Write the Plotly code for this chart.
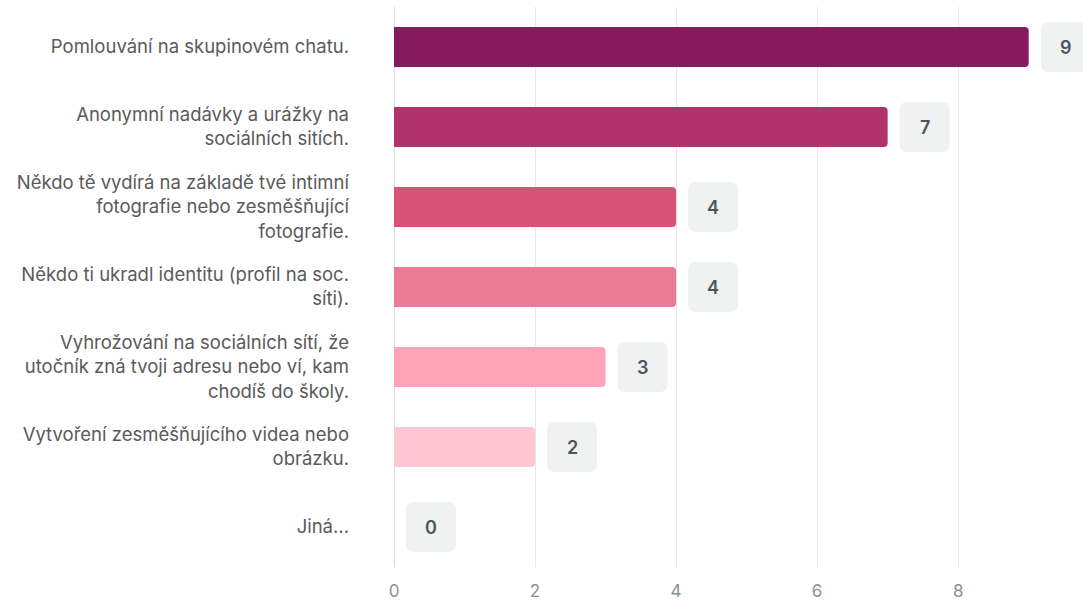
import plotly.graph_objects as go

categories = [
    "Pomlouvání na skupinovém chatu.",
    "Anonymní nadávky a urážky na<br>sociálních sitích.",
    "Někdo tě vydírá na základě tvé intimní<br>fotografie nebo zesměšňující<br>fotografie.",
    "Někdo ti ukradl identitu (profil na soc.<br>síti).",
    "Vyhrožování na sociálních sítí, že<br>utočník zná tvoji adresu nebo ví, kam<br>chodíš do školy.",
    "Vytvoření zesměšňujícího videa nebo<br>obrázku.",
    "Jiná...",
]
values = [9, 7, 4, 4, 3, 2, 0]
colors = ["#861a5e", "#b0346b", "#d95379", "#eb7a97", "#ffa3b9", "#ffc6d3", "#ffd9e2"]
x_ticks = [0, 2, 4, 6, 8]

fig = go.Figure()
fig.add_trace(go.Bar(
    x=values, y=categories, orientation="h",
    marker=dict(color=colors, cornerradius=4, line=dict(width=0)),
    hoverinfo="x+y", showlegend=False,
))

box_path = ("M 20,-25 H 54 Q 62,-25 62,-17 V 17 Q 62,25 54,25 H 20 "
            "Q 12,25 12,17 V -17 Q 12,-25 20,-25 Z")
for cat, v in zip(categories, values):
    fig.add_shape(
        type="path", xref="x", yref="y",
        xsizemode="pixel", ysizemode="pixel",
        xanchor=v, yanchor=cat, path=box_path,
        fillcolor="#f0f1f1", line=dict(width=0), layer="above",
    )
    fig.add_annotation(
        x=v, y=cat, xref="x", yref="y", xshift=37,
        text=str(v), showarrow=False,
        font=dict(family="Inter", size=18, color="#4b5563", weight=600),
    )

fig.update_layout(
    width=1083, height=601,
    margin=dict(l=394, r=0, t=7, b=34),
    paper_bgcolor="white", plot_bgcolor="white",
    bargap=0.5,
    font=dict(family="Inter", size=18, color="#555555"),
)
fig.update_xaxes(
    range=[0, 9.77], tickvals=x_ticks,
    showgrid=True, gridcolor="#e6e8eb", gridwidth=1,
    zeroline=True, zerolinecolor="#d3dcea", zerolinewidth=1,
    showline=False, ticklabelstandoff=12,
    tickfont=dict(family="Inter", size=17, color="#8a8f98"),
)
fig.update_yaxes(
    range=[6.5, -0.5], showgrid=False, zeroline=False, showline=False,
    ticklabelstandoff=44,
    tickfont=dict(family="Inter", size=18.5, color="#5a5a5a"),
)

fig.write_html(
    "out.html",
    config={"displayModeBar": False},
    post_script="document.body.style.margin='0';document.body.style.overflow='hidden';",
)
